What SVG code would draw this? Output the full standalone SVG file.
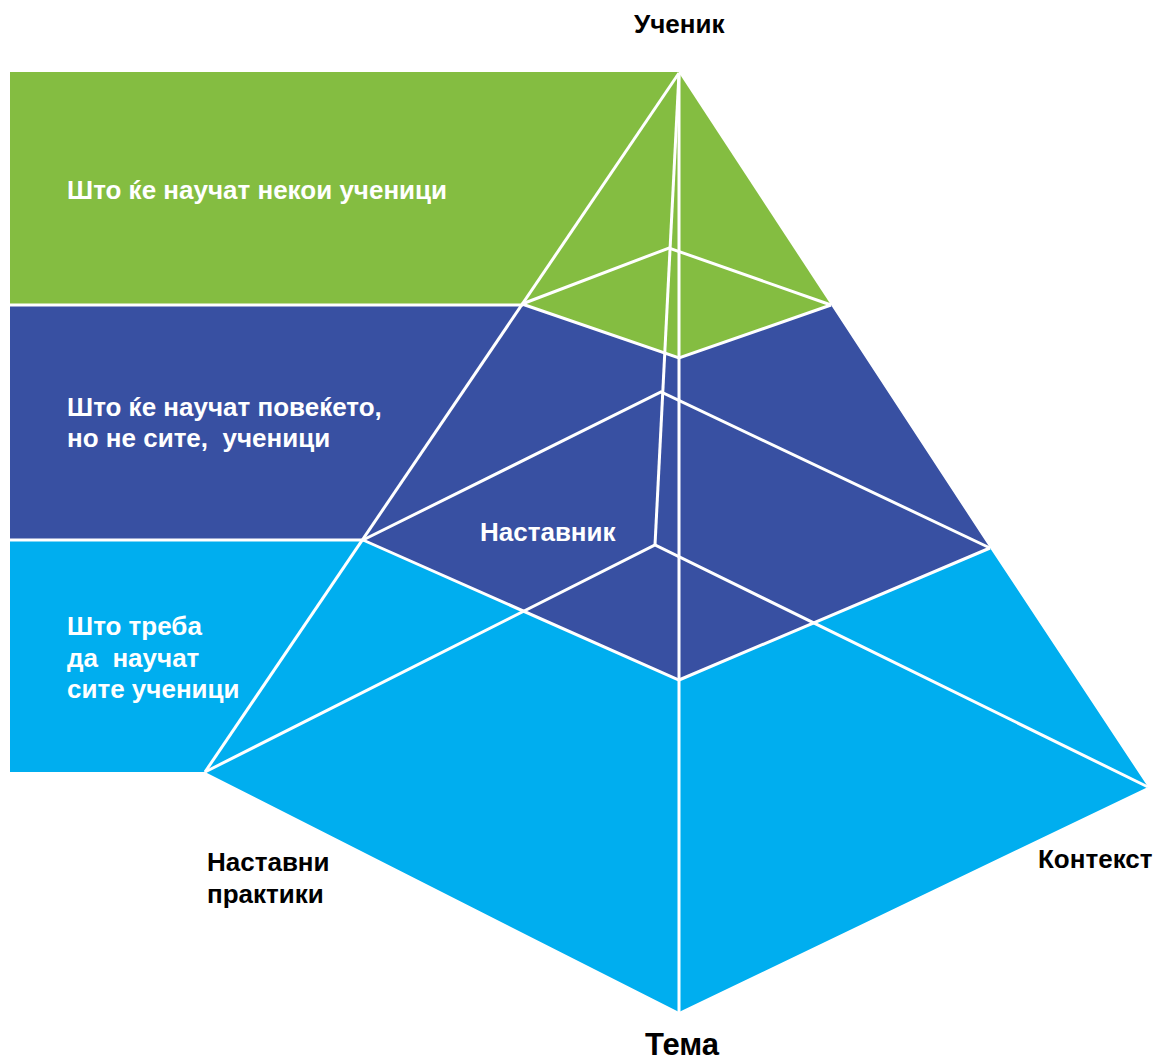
<svg xmlns="http://www.w3.org/2000/svg" width="1157" height="1063" viewBox="0 0 1157 1063">
<style>
.g{fill:#84BD41}.b{fill:#3850A2}.c{fill:#00AEEF}
.ln{fill:none;stroke:#fff;stroke-width:3;stroke-linejoin:miter}
.t{font-family:"Liberation Sans",Arial,sans-serif;font-weight:bold;font-size:26px}
.w{fill:#fff}.k{fill:#000}
</style>
<rect width="1157" height="1063" fill="#fff"/>
<g id="band-green"><polygon class="g" points="10,72 679,72 523,304 10,304"/></g>
<g id="band-blue"><polygon class="b" points="10,306 522,306 364,539 10,539"/></g>
<g id="band-cyan"><polygon class="c" points="10,541 362,541 205,772 10,772"/></g>
<g id="tier-top"><polygon class="g" points="679,73 831,305 679,358 522,304"/></g>
<g id="tier-mid"><polygon class="b" points="522,304 679,358 831,305 990,548 679,680 363,540"/></g>
<g id="tier-bottom"><polygon class="c" points="363,540 679,680 990,548 1148,787 679,1012 205,772"/></g>
<g id="connectors">
<line class="ln" x1="679" y1="73" x2="205" y2="772"/>
<line class="ln" x1="679" y1="73" x2="679" y2="1012"/>
<line class="ln" x1="679" y1="73" x2="655" y2="545"/>
<polyline class="ln" points="522,304 669,248 831,305"/>
<polyline class="ln" points="522,304 679,358 831,305"/>
<polyline class="ln" points="363,540 661,392 990,548"/>
<polyline class="ln" points="363,540 679,680 990,548"/>
<polyline class="ln" points="205,772 655,545 1148,787"/>
<line class="ln" x1="10" y1="305" x2="523" y2="305"/>
<line class="ln" x1="10" y1="540" x2="364" y2="540"/>
</g>
<g id="label-student"><text class="t k" x="634" y="33">Ученик</text></g>
<g id="label-some"><text class="t w" x="67" y="199">Што ќе научат некои ученици</text></g>
<g id="label-most"><text class="t w" x="67" y="416">Што ќе научат повеќето,</text><text class="t w" x="67" y="447" xml:space="preserve">но не сите,  ученици</text></g>
<g id="label-teacher"><text class="t w" x="480" y="541">Наставник</text></g>
<g id="label-all"><text class="t w" x="67" y="635">Што треба</text><text class="t w" x="67" y="667" xml:space="preserve">да  научат</text><text class="t w" x="67" y="698">сите ученици</text></g>
<g id="label-practice"><text class="t k" x="207" y="871">Наставни</text><text class="t k" x="207" y="903">практики</text></g>
<g id="label-context"><text class="t k" x="1038" y="868">Контекст</text></g>
<g id="label-topic"><text class="t k" x="682" y="1055" text-anchor="middle" style="font-size:31px">Тема</text></g>
</svg>
